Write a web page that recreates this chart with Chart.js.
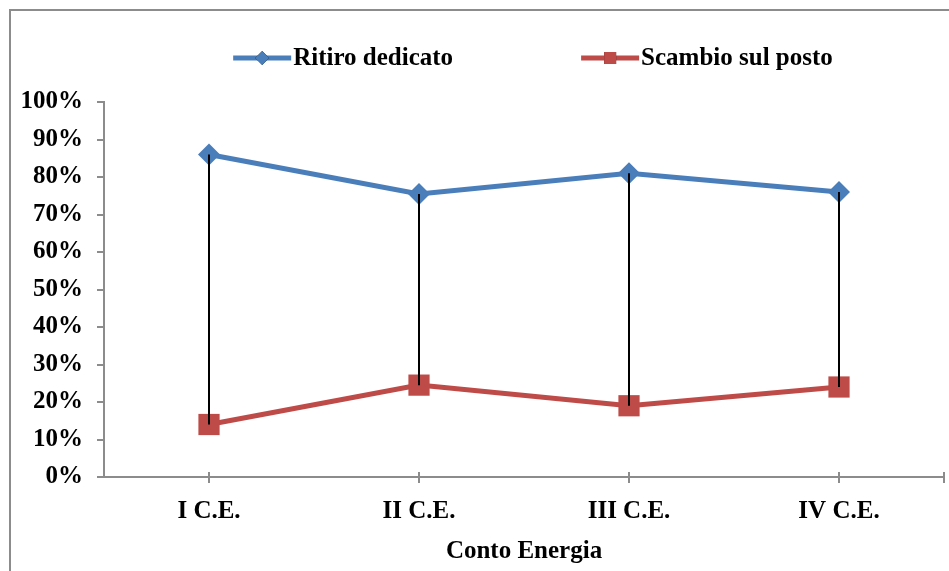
<!DOCTYPE html>
<html>
<head>
<meta charset="utf-8">
<script src="https://cdn.jsdelivr.net/npm/chart.js@4/dist/chart.umd.min.js"></script>
<style>
  html, body { margin: 0; padding: 0; background: #fff; overflow: hidden; }
  #frame {
    position: absolute; left: 9px; top: 9px; width: 960px; height: 580px;
    border-left: 2px solid #8c8c8c; border-top: 2px solid #8c8c8c;
  }
  #chart { position: absolute; left: 0; top: 0; }
</style>
</head>
<body>
<div id="frame"></div>
<canvas id="chart" width="949" height="571"></canvas>
<script>
// Categories (Conto Energia) and share of each scheme, in percent
const categories = ['I C.E.', 'II C.E.', 'III C.E.', 'IV C.E.'];
const ritiroDedicato = [86, 75.5, 81, 76];
const scambioSulPosto = [14, 24.5, 19, 24];
const yTicks = [0, 10, 20, 30, 40, 50, 60, 70, 80, 90, 100];

const FONT = { family: "'Liberation Serif', 'Times New Roman', serif", size: 25, weight: 'bold' };
const AXIS_GREY = '#8c8c8c';

// Black high-low lines joining the two series at each category
const highLowLines = {
    id: 'highLowLines',
    afterDatasetsDraw(chart) {
        const a = chart.getDatasetMeta(0).data;
        const b = chart.getDatasetMeta(1).data;
        const ctx = chart.ctx;
        ctx.save();
        ctx.strokeStyle = '#000';
        ctx.lineWidth = 2;
        a.forEach((p, i) => {
            if (!b[i]) return;
            ctx.beginPath();
            ctx.moveTo(p.x, p.y);
            ctx.lineTo(b[i].x, b[i].y);
            ctx.stroke();
        });
        ctx.restore();
    }
};

// Excel style x ticks cross the axis line, plus one at the right end
const crossTicks = {
    id: 'crossTicks',
    afterDraw(chart) {
        const xs = chart.scales.x;
        const ctx = chart.ctx;
        const y = chart.chartArea.bottom;
        const px = xs.ticks.map((t, i) => xs.getPixelForTick(i));
        px.push(chart.chartArea.right);
        ctx.save();
        ctx.strokeStyle = AXIS_GREY;
        ctx.lineWidth = 2;
        px.forEach(x => {
            ctx.beginPath();
            ctx.moveTo(x, y - 5);
            ctx.lineTo(x, y + 6);
            ctx.stroke();
        });
        ctx.restore();
    }
};

// Excel-like legend: short line with marker, then label
const lineLegend = {
    id: 'lineLegend',
    afterDraw(chart) {
        const ctx = chart.ctx;
        const sets = chart.data.datasets;
        const iconW = 58, gap = 2, itemGap = 128;
        const markerR = { rectRot: 7, rect: 8.5 };
        ctx.save();
        ctx.font = `${FONT.weight} ${FONT.size}px ${FONT.family}`;
        const widths = sets.map(ds => iconW + gap + ctx.measureText(ds.label).width);
        const total = widths.reduce((s, w) => s + w, 0) + itemGap * (sets.length - 1);
        const area = chart.chartArea;
        let x = (area.left + area.right - total) / 2 + 9;
        const y = 58;
        sets.forEach((ds, i) => {
            ctx.strokeStyle = ds.borderColor;
            ctx.lineWidth = ds.borderWidth;
            ctx.beginPath();
            ctx.moveTo(x, y);
            ctx.lineTo(x + iconW, y);
            ctx.stroke();
            Chart.helpers.drawPoint(ctx, {
                pointStyle: ds.pointStyle,
                radius: markerR[ds.pointStyle],
                borderWidth: 0
            }, x + iconW / 2, y);
            ctx.fillStyle = ds.pointBackgroundColor;
            ctx.fill();
            ctx.fillStyle = '#000';
            ctx.textBaseline = 'middle';
            ctx.textAlign = 'left';
            ctx.fillText(ds.label, x + iconW + gap, y + 1);
            x += widths[i] + itemGap;
        });
        ctx.restore();
    }
};

new Chart(document.getElementById('chart'), {
    type: 'line',
    data: {
        labels: categories,
        datasets: [
            {
                label: 'Ritiro dedicato',
                data: ritiroDedicato,
                borderColor: '#4a7ebb',
                backgroundColor: '#4a7ebb',
                pointBackgroundColor: '#4a7ebb',
                pointBorderWidth: 0,
                borderWidth: 5,
                pointStyle: 'rectRot',
                pointRadius: 11,
                tension: 0
            },
            {
                label: 'Scambio sul posto',
                data: scambioSulPosto,
                borderColor: '#be4b48',
                backgroundColor: '#be4b48',
                pointBackgroundColor: '#be4b48',
                pointBorderWidth: 0,
                borderWidth: 5,
                pointStyle: 'rect',
                pointRadius: 15,
                tension: 0
            }
        ]
    },
    options: {
        responsive: false,
        animation: false,
        layout: { autoPadding: false, padding: { left: 10, right: 5, top: 102, bottom: 4 } },
        plugins: {
            legend: { display: false },
            tooltip: { enabled: false }
        },
        scales: {
            x: {
                offset: true,
                afterFit: (scale) => {
                    scale.height = 90;
                    scale.paddingLeft = 0;
                    scale.paddingRight = 0;
                },
                grid: {
                    offset: false,
                    drawOnChartArea: false,
                    color: AXIS_GREY,
                    lineWidth: 2,
                    tickLength: 6
                },
                border: { color: AXIS_GREY, width: 2 },
                ticks: { color: '#000', font: FONT, padding: 14, maxRotation: 0 },
                title: {
                    display: true,
                    text: 'Conto Energia',
                    color: '#000',
                    font: FONT,
                    padding: { top: 0, bottom: 0 }
                }
            },
            y: {
                min: 0,
                max: 100,
                afterFit: (scale) => { scale.width = 94; },
                afterBuildTicks: (scale) => { scale.ticks = yTicks.map(v => ({ value: v })); },
                grid: {
                    drawOnChartArea: false,
                    color: AXIS_GREY,
                    lineWidth: 2,
                    tickLength: 7
                },
                border: { color: AXIS_GREY, width: 2 },
                ticks: {
                    color: '#000',
                    font: FONT,
                    padding: 14,
                    callback: (v) => v + '%'
                }
            }
        }
    },
    plugins: [highLowLines, crossTicks, lineLegend]
});
</script>
</body>
</html>
